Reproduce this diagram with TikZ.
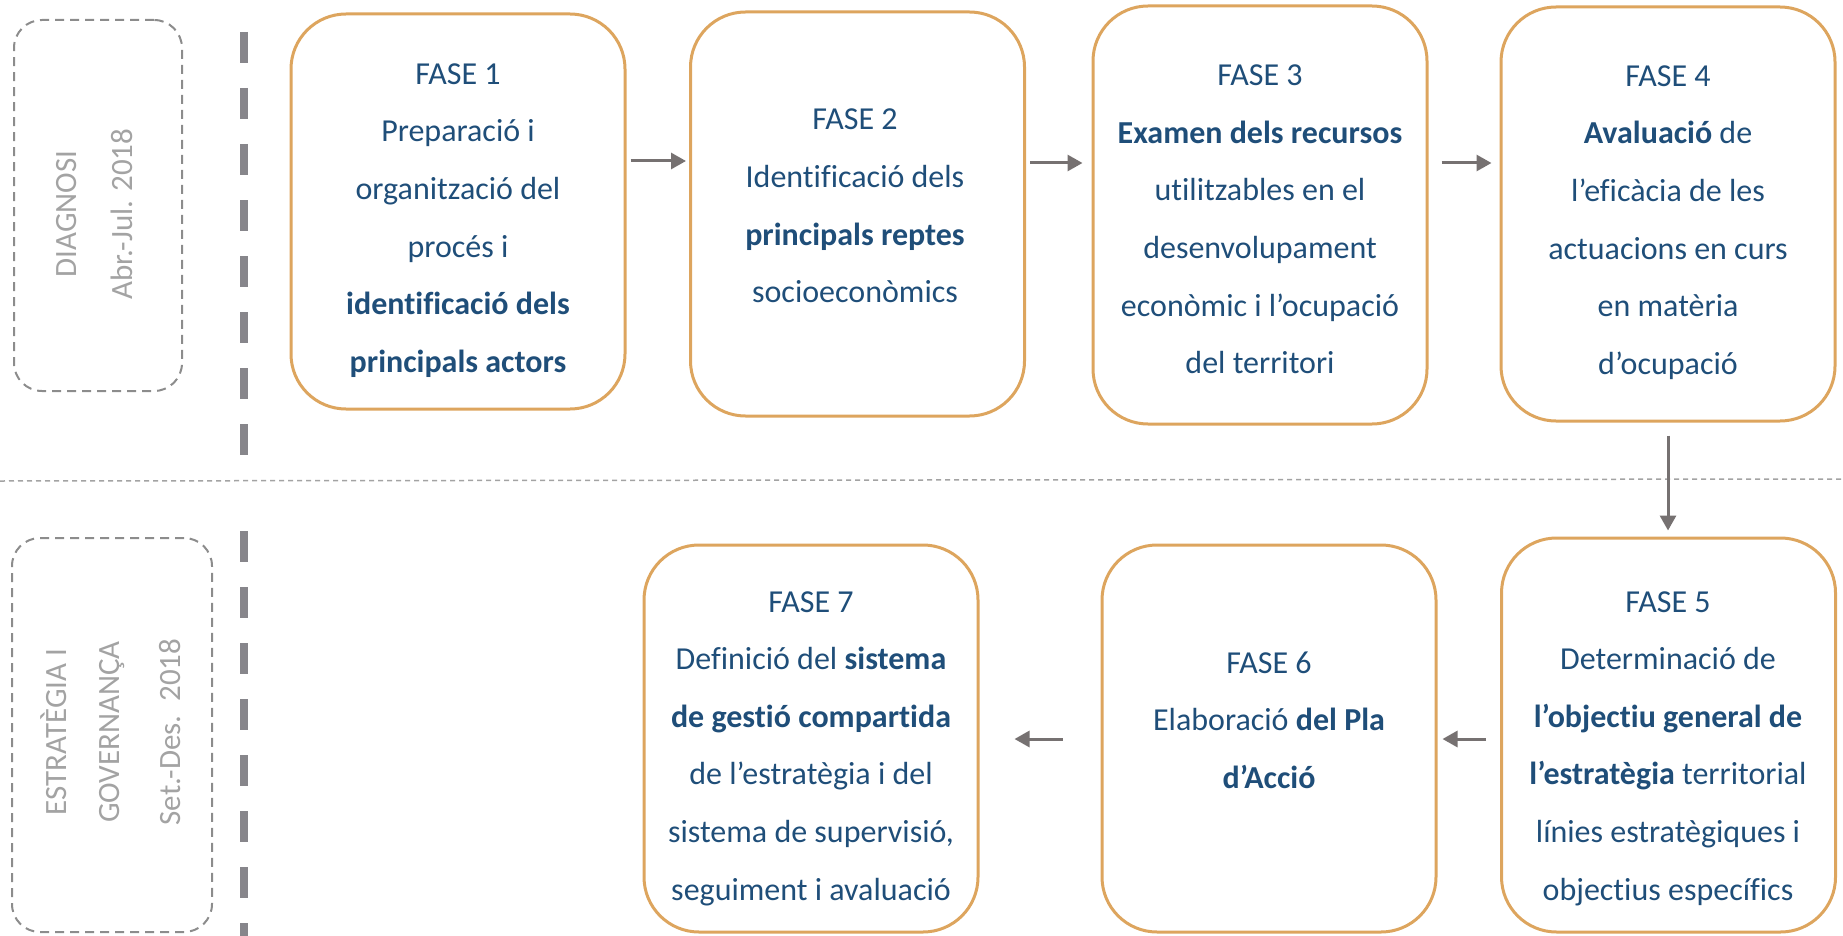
\documentclass[tikz,border=0pt]{standalone}
\usepackage{fontspec}
\setmainfont[Ligatures={NoCommon,TeX}]{Carlito}
\usetikzlibrary{arrows.meta}
\definecolor{boxor}{HTML}{DDA55E}
\definecolor{txtblue}{HTML}{1F4E79}
\definecolor{arrgray}{HTML}{767171}
\definecolor{linegray}{HTML}{87868B}
\definecolor{lblgray}{HTML}{A3A3A3}
\definecolor{dashgray}{HTML}{8C8C8C}
\begin{document}
\begin{tikzpicture}[x=1pt,y=-1pt,
  phase/.style={draw=boxor, line width=3pt, rounded corners=55pt, minimum width=334pt, inner sep=0pt},
  txt/.style={text=txtblue, align=center, font=\fontsize{32}{57.6}\selectfont, inner sep=0pt},
  arr/.style={draw=arrgray, line width=3pt, -{Triangle[length=15pt,width=16pt]}},
  period/.style={draw=dashgray, line width=2pt, dash pattern=on 9pt off 6pt, rounded corners=28pt},
  side/.style={text=lblgray, rotate=90, font=\fontsize{31}{40}\selectfont, inner sep=0pt},
  sep/.style={draw=linegray, line width=8pt, dash pattern=on 31pt off 25pt}
]
\useasboundingbox (0,0) rectangle (1843,936);

% period boxes
\node[period, minimum width=168pt, minimum height=371pt] (p1) at (98,205.5) {};
\node[period, minimum width=200pt, minimum height=394pt] (p2) at (112,735) {};
\node[side] (l1a) at (67,214) {DIAGNOSI};
\node[side] (l1b) at (122,214) {Abr.-Jul. 2018};
\node[side] (l2a) at (54,732) {ESTRATÈGIA I};
\node[side] (l2b) at (112,732) {GOVERNANÇA};
\node[side] (l2c) at (170,732) {Set.-Des.\ \ 2018};

% separators
\coordinate (s1) at (244,32);
\coordinate (s2) at (244,456);
\coordinate (s3) at (244,531);
\coordinate (s4) at (244,940);
\draw[sep] (s1) -- (s2);
\draw[sep] (s3) -- (s4);
\coordinate (h1) at (0,481);
\coordinate (h2) at (1843,479);
\draw[draw=lblgray, line width=1.5pt, dash pattern=on 5pt off 4pt] (h1) -- (h2);

% phase boxes
\node[phase, minimum height=395pt] (b1) at (458,211.5) {};
\node[phase, minimum height=404pt] (b2) at (857.5,214) {};
\node[phase, minimum height=418pt] (b3) at (1260,215) {};
\node[phase, minimum height=414pt] (b4) at (1668,214) {};
\node[phase, minimum height=394pt] (b5) at (1668.5,735) {};
\node[phase, minimum height=387pt] (b6) at (1269,738.5) {};
\node[phase, minimum height=387pt] (b7) at (811,738.5) {};

% texts
\node[txt] (t1) at (458,220.5) {FASE 1\\Preparació i\\organització del\\procés i\\\textbf{identificació dels}\\\textbf{principals actors}};
\node[txt] (t2) at (855,206) {FASE 2\\Identificació dels\\\textbf{principals reptes}\\socioeconòmics};
\node[txt] (t3) at (1260,219.5) {FASE 3\\\textbf{Examen dels recursos}\\utilitzables en el\\desenvolupament\\econòmic i l’ocupació\\del territori};
\node[txt] (t4) at (1668,222.5) {FASE 4\\\textbf{Avaluació} de\\l’eficàcia de les\\actuacions en curs\\en matèria\\d’ocupació};
\node[txt] (t5) at (1668,748.5) {FASE 5\\Determinació de\\\textbf{l’objectiu general de}\\\textbf{l’estratègia} territorial\\línies estratègiques i\\objectius específics};
\node[txt] (t6) at (1269,720) {FASE 6\\Elaboració \textbf{del Pla}\\\textbf{d’Acció}};
\node[txt] (t7) at (811,748.5) {FASE 7\\Definició del \textbf{sistema}\\\textbf{de gestió compartida}\\de l’estratègia i del\\sistema de supervisió,\\seguiment i avaluació};

% arrows
\coordinate (ya) at (0,161);
\coordinate (yb) at (0,163);
\coordinate (yc) at (0,739);
\coordinate (xd) at (1668,0);
\draw[arr, shorten <=4pt, shorten >=3pt] (b1.east |- ya) -- (b2.west |- ya);
\draw[arr, shorten <=4pt, shorten >=9pt] (b2.east |- yb) -- (b3.west |- yb);
\draw[arr, shorten <=13pt, shorten >=8pt] (b3.east |- yb) -- (b4.west |- yb);
\draw[arr, shorten <=13pt, shorten >=6pt] (b4.south -| xd) -- (b5.north -| xd);
\draw[arr, shorten <=14pt, shorten >=5pt] (b5.west |- yc) -- (b6.east |- yc);
\draw[arr, shorten <=38pt, shorten >=35pt] (b6.west |- yc) -- (b7.east |- yc);
\end{tikzpicture}
\end{document}
